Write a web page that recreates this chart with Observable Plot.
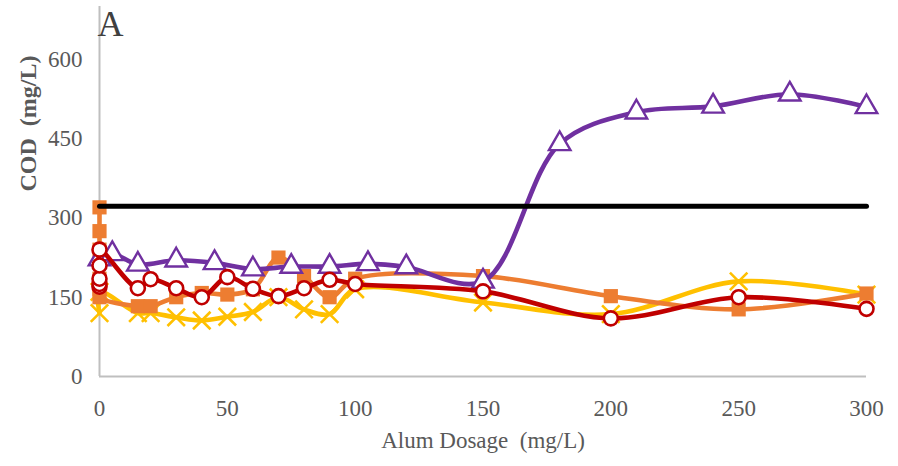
<!DOCTYPE html>
<html>
<head>
<meta charset="utf-8">
<script src="https://cdn.jsdelivr.net/npm/d3@7"></script>
<script src="https://cdn.jsdelivr.net/npm/@observablehq/plot@0.6"></script>
<style>
  body { margin: 0; background: #fff; }
  #chart svg { display: block; }
</style>
</head>
<body>
<div id="chart"></div>
<script>
// ---- data ----
const xTicks = [0, 50, 100, 150, 200, 250, 300];
const yTicks = [0, 150, 300, 450, 600];

const limitDose = [0, 300];
const limitCOD = [322, 322];

const purpleDose = [0, 5, 15, 30, 45, 60, 75, 90, 105, 120, 150, 180, 210, 240, 270, 300];
const purpleCOD  = [222, 232, 212, 220, 215, 203, 208, 208, 213, 207, 180, 440, 500, 511, 534, 510];

const orangeDose = [0, 0, 0, 0, 0, 0, 15, 20, 30, 40, 50, 60, 70, 80, 90, 100, 150, 200, 250, 300];
const orangeCOD  = [320, 275, 240, 185, 165, 150, 133, 133, 150, 158, 155, 165, 225, 190, 150, 185, 190, 152, 127, 157];

const redDose = [0, 0, 0, 0, 0, 15, 20, 30, 40, 50, 60, 70, 80, 90, 100, 150, 200, 250, 300];
const redCOD  = [170, 175, 185, 210, 240, 167, 184, 167, 150, 188, 166, 152, 167, 183, 175, 161, 110, 150, 128];

const yellowDose = [0, 0, 15, 20, 30, 40, 50, 60, 70, 80, 90, 100, 150, 200, 250, 300];
const yellowCOD  = [120, 160, 120, 120, 112, 106, 113, 122, 150, 127, 118, 165, 140, 118, 180, 155];

const rows = (xs, ys) => xs.map((x, i) => ({dose: x, cod: ys[i]}));
const limit = rows(limitDose, limitCOD);
const purple = rows(purpleDose, purpleCOD);
const orange = rows(orangeDose, orangeCOD);
const red = rows(redDose, redCOD);
const yellow = rows(yellowDose, yellowCOD);

const curve = "catmull-rom";
const lw = 4.6;

const chart = Plot.plot({
  width: 898,
  height: 466,
  marginLeft: 99,
  marginRight: 32,
  marginTop: 6,
  marginBottom: 90,
  style: {fontFamily: "'Liberation Serif', 'Times New Roman', serif", fontSize: "23px", color: "#595959", background: "#fff"},
  x: {domain: [0, 300], ticks: xTicks, tickSize: 0, tickPadding: 23, label: null},
  y: {domain: [0, 700], ticks: yTicks, tickSize: 0, tickPadding: 17, label: null},
  marks: [
    Plot.ruleY([0], {stroke: "#bfbfbf", strokeWidth: 2}),
    Plot.ruleX([0], {y1: 0, y2: 700, stroke: "#bfbfbf", strokeWidth: 2}),
    // yellow
    Plot.line(yellow, {x: "dose", y: "cod", stroke: "#FFC000", strokeWidth: lw, curve}),
    Plot.dot(yellow, {x: "dose", y: "cod", symbol: "times", r: 8, stroke: "#FFC000", strokeWidth: 2.6}),
    // orange
    Plot.line(orange, {x: "dose", y: "cod", stroke: "#ED7D31", strokeWidth: lw, curve}),
    Plot.dot(orange, {x: "dose", y: "cod", symbol: "square", r: 8, fill: "#ED7D31", stroke: "none"}),
    // purple
    Plot.line(purple, {x: "dose", y: "cod", stroke: "#7030A0", strokeWidth: lw, curve}),
    Plot.dot(purple, {x: "dose", y: "cod", symbol: "triangle", r: 8, fill: "#fff", stroke: "#7030A0", strokeWidth: 2.4}),
    // red
    Plot.line(red, {x: "dose", y: "cod", stroke: "#C00000", strokeWidth: lw, curve}),
    Plot.dot(red, {x: "dose", y: "cod", symbol: "circle", r: 7, fill: "#fff", stroke: "#C00000", strokeWidth: 2.6}),
    // limit
    Plot.line(limit, {x: "dose", y: "cod", stroke: "#000", strokeWidth: 5}),
    // texts
    Plot.text(["A"], {frameAnchor: "top-left", textAnchor: "start", lineAnchor: "top", dx: -2, dy: 4, fontSize: 36, fill: "#404040"}),
    Plot.text(["COD\u2002(mg/L)"], {frameAnchor: "left", rotate: -90, dx: -71, dy: 0, fontWeight: "bold", fontSize: 24, fill: "#595959"}),
    Plot.text(["Alum Dosage\u2002(mg/L)"], {frameAnchor: "bottom", dy: 71, fontSize: 23, fill: "#595959"})
  ]
});
document.getElementById("chart").append(chart);
</script>
</body>
</html>
